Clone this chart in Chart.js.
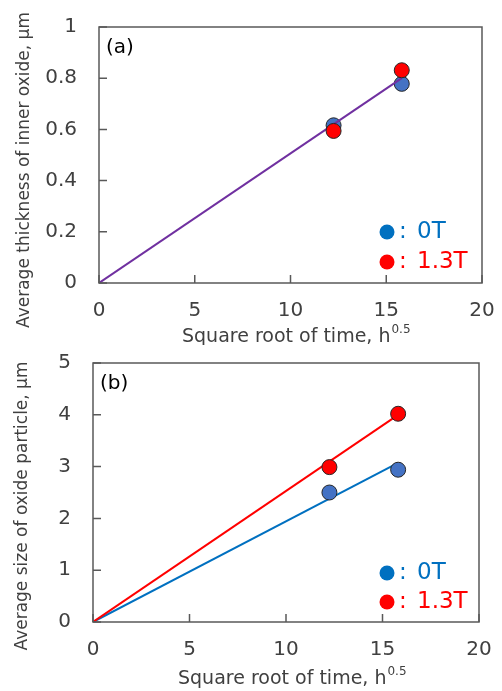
<!DOCTYPE html>
<html lang="en">
<head>
<meta charset="UTF-8">
<title>Oxide growth vs square root of time</title>
<script src="https://cdn.jsdelivr.net/npm/chart.js"></script>
<style>
  body { margin: 0; background: #fff; }
  .wrap { position: absolute; left: 0; width: 502px; }
</style>
</head>
<body>
<div class="wrap" style="top:0;height:345px"><canvas id="chartA" width="502" height="345"></canvas></div>
<div class="wrap" style="top:345px;height:346px"><canvas id="chartB" width="502" height="346"></canvas></div>
<script>
// values
const sqrtTime = [12.25, 15.81];
const thick0T = [0.616, 0.778];
const thick13T = [0.594, 0.831];
const fitX = [0, 15.81];
const thickFit = [0, 0.80];
const size0T = [2.50, 2.94];
const size13T = [2.99, 4.02];
const size0TFit = [0, 3.07];
const size13TFit = [0, 4.00];

const BLUE_PT = '#4472C4', BLUE = '#0070C0', RED = '#FF0000', PURPLE = '#7030A0';
const FONT = '"DejaVu Sans", Verdana, sans-serif';
const TXT = '#404040', AXIS = '#595959';

const pts = (xs, ys) => xs.map((x, i) => ({ x: x, y: ys[i] }));

// frame, inward ticks, axis titles, panel tag and the in-plot legend
const decor = {
  id: 'decor',
  afterDraw(chart, args, o) {
    const ctx = chart.ctx, a = chart.chartArea;
    const xs = chart.scales.x, ys = chart.scales.y;
    ctx.save();
    ctx.strokeStyle = AXIS;
    ctx.lineWidth = 1.5;
    ctx.strokeRect(a.left, a.top, a.right - a.left, a.bottom - a.top);
    ctx.beginPath();
    xs.ticks.forEach(t => {
      const px = xs.getPixelForValue(t.value);
      ctx.moveTo(px, a.bottom); ctx.lineTo(px, a.bottom - 8);
    });
    ys.ticks.forEach(t => {
      const py = ys.getPixelForValue(t.value);
      ctx.moveTo(a.left, py); ctx.lineTo(a.left + 8, py);
    });
    ctx.stroke();

    // x title with superscript
    ctx.fillStyle = TXT;
    ctx.textBaseline = 'alphabetic';
    ctx.textAlign = 'left';
    ctx.font = '19px ' + FONT;
    const main = 'Square root of time, h';
    ctx.fillText(main, o.xTitleX, o.xTitleY);
    const w = ctx.measureText(main).width;
    ctx.font = '12px ' + FONT;
    ctx.fillText('0.5', o.xTitleX + w + 1, o.xTitleY - 9);

    // y title
    ctx.font = '17px ' + FONT;
    ctx.textAlign = 'center';
    ctx.textBaseline = 'middle';
    ctx.save();
    ctx.translate(o.yTitleX, o.yTitleY);
    ctx.rotate(-Math.PI / 2);
    ctx.fillText(o.yTitle, 0, 0);
    ctx.restore();

    // panel tag
    ctx.font = '20px ' + FONT;
    ctx.textAlign = 'left';
    ctx.fillStyle = '#000';
    ctx.fillText(o.tag, a.left + 7, a.top + 21);

    // legend
    o.legend.forEach(l => {
      ctx.fillStyle = l.color;
      ctx.beginPath();
      ctx.arc(387, l.y, 7.5, 0, Math.PI * 2);
      ctx.fill();
      ctx.font = '23px ' + FONT;
      ctx.textAlign = 'left';
      ctx.fillText(':', 399, l.y);
      ctx.fillText(l.text, 417, l.y);
    });
    ctx.restore();
  }
};

function makeChart(id, cfg) {
  const ctx = document.getElementById(id).getContext('2d');
  return new Chart(ctx, {
    type: 'scatter',
    data: { datasets: cfg.datasets },
    options: {
      responsive: false,
      animation: false,
      layout: { padding: { top: cfg.top, right: cfg.right, left: 0, bottom: 0 } },
      plugins: {
        legend: { display: false },
        tooltip: { enabled: false },
        decor: cfg.decor
      },
      scales: {
        x: {
          type: 'linear', min: 0, max: 20,
          grid: { display: false, drawTicks: false },
          border: { display: false },
          ticks: { stepSize: 5, padding: 16, color: TXT, font: { family: FONT, size: 20 } },
          afterFit: s => { s.height = cfg.xHeight; s.paddingLeft = 0; s.paddingRight = 0; }
        },
        y: {
          type: 'linear', min: 0, max: cfg.yMax,
          grid: { display: false, drawTicks: false },
          border: { display: false },
          ticks: {
            stepSize: cfg.yStep, padding: 22, color: TXT, font: { family: FONT, size: 20 },
            callback: v => String(Math.round(v * 10) / 10)
          },
          afterFit: s => { s.width = cfg.yWidth; s.paddingTop = 0; s.paddingBottom = 0; }
        }
      }
    },
    plugins: [decor]
  });
}

const marker = (color, order, data) => ({
  data: data, order: order, showLine: false,
  pointRadius: 7.5, pointHoverRadius: 7.5,
  pointBackgroundColor: color, pointBorderColor: '#262626', pointBorderWidth: 1
});
const fitLine = (color, order, data) => ({
  data: data, order: order, showLine: true,
  borderColor: color, borderWidth: 2, pointRadius: 0, fill: false
});

makeChart('chartA', {
  top: 27, right: 20, yWidth: 99, xHeight: 62, yMax: 1, yStep: 0.2,
  datasets: [
    marker(RED, 1, pts(sqrtTime, thick13T)),
    fitLine(PURPLE, 2, pts(fitX, thickFit)),
    marker(BLUE_PT, 3, pts(sqrtTime, thick0T))
  ],
  decor: {
    tag: '(a)',
    xTitleX: 182, xTitleY: 342,
    yTitle: 'Average thickness of inner oxide, \u03bcm', yTitleX: 25, yTitleY: 170,
    legend: [{ color: BLUE, text: '0T', y: 232 }, { color: RED, text: '1.3T', y: 262 }]
  }
});

makeChart('chartB', {
  top: 18, right: 23, yWidth: 93, xHeight: 69, yMax: 5, yStep: 1,
  datasets: [
    marker(RED, 1, pts(sqrtTime, size13T)),
    marker(BLUE_PT, 2, pts(sqrtTime, size0T)),
    fitLine(RED, 3, pts(fitX, size13TFit)),
    fitLine(BLUE, 4, pts(fitX, size0TFit))
  ],
  decor: {
    tag: '(b)',
    xTitleX: 178, xTitleY: 339,
    yTitle: 'Average size of oxide particle, \u03bcm', yTitleX: 23, yTitleY: 161,
    legend: [{ color: BLUE, text: '0T', y: 228 }, { color: RED, text: '1.3T', y: 257 }]
  }
});
</script>
</body>
</html>
